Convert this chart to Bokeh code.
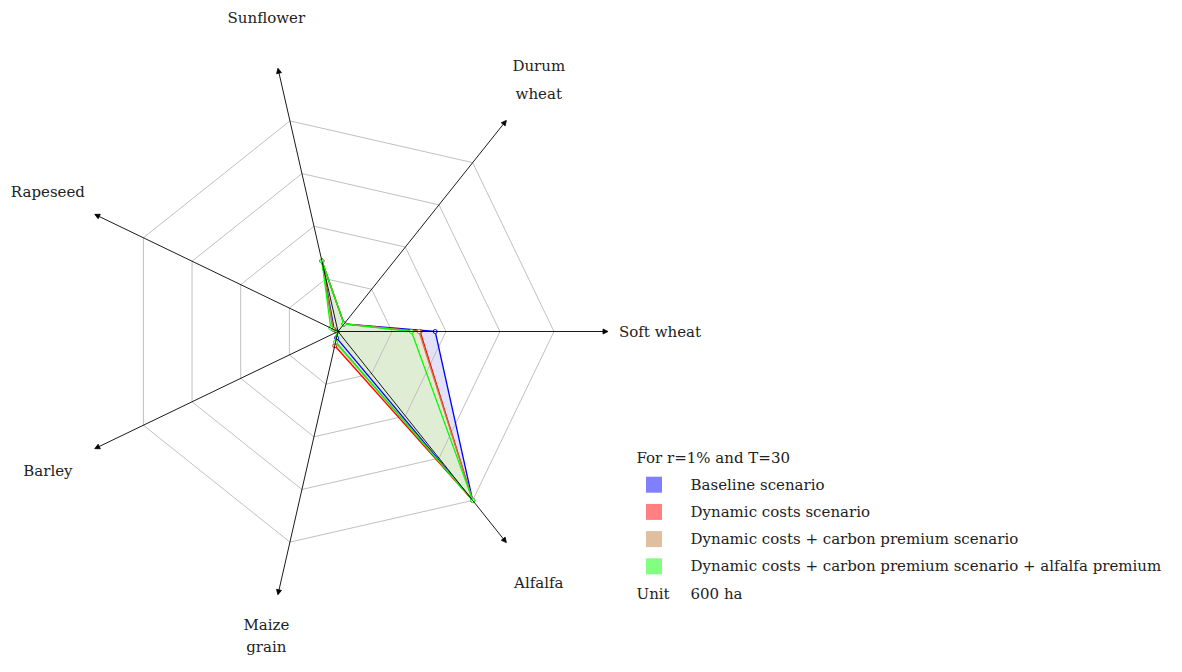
import math
from bokeh.plotting import figure
from bokeh.models import Range1d, Arrow, NormalHead
from bokeh.core.properties import value
from bokeh.embed import file_html
from bokeh.resources import INLINE

# ---------------- data ----------------
crops = ["Soft wheat", "Durum wheat", "Sunflower", "Rapeseed", "Barley", "Maize grain", "Alfalfa"]
label_lines = [["Soft wheat"], ["Durum", "wheat"], ["Sunflower"], ["Rapeseed"], ["Barley"], ["Maize", "grain"], ["Alfalfa"]]
series_names = ["Baseline scenario",
                "Dynamic costs scenario",
                "Dynamic costs + carbon premium scenario",
                "Dynamic costs + carbon premium scenario + alfalfa premium"]
# areas in ha (one ring = 600 ha)
baseline = [1080, 108, 804, 48, 12, 72, 2400]
dyn_costs = [912, 108, 804, 60, 12, 162, 2400]
dyn_carbon = [900, 108, 804, 60, 12, 120, 2400]
dyn_carbon_alfalfa = [816, 108, 804, 90, 12, 120, 2400]
series_values = [baseline, dyn_costs, dyn_carbon, dyn_carbon_alfalfa]
ring_values = [600, 1200, 1800, 2400]
axis_max = 3000
header_text = "For r=1% and T=30"
unit_label = "Unit"
unit_text = "600 ha"

line_colors = ["#0000ff", "#ff0000", "#bf8040", "#00ff00"]
fill_colors = ["#e1e1f8", "#f8dede", "#efe4d8", "#dfedd5"]
legend_colors = ["#8080ff", "#ff8080", "#dfbf9f", "#80ff80"]

# ---------------- layout ----------------
W, H = 1166, 656
CX, CY = 337.5, 331.0
SCALE = 216.0 / 2400.0  # px per ha
LABEL_R = 322.0
FONT = value("DejaVu Serif")
FS = "15px"
TXT = "#222222"

p = figure(width=W, height=H, output_backend="svg", toolbar_location=None,
           x_range=Range1d(0, W), y_range=Range1d(H, 0),
           min_border=0, tools="")
p.axis.visible = False
p.grid.visible = False
p.outline_line_color = None
p.background_fill_color = "white"

n = len(crops)
angles = [2 * math.pi * k / n for k in range(n)]


def to_xy(vals):
    xs = [CX + v * SCALE * math.cos(a) for v, a in zip(vals, angles)]
    ys = [CY - v * SCALE * math.sin(a) for v, a in zip(vals, angles)]
    return xs, ys


# series fills (under the grid)
for vals, col in zip(series_values, fill_colors):
    xs, ys = to_xy(vals)
    p.patch(xs, ys, fill_color=col, fill_alpha=1.0, line_color=None)

# grid rings
for rv in ring_values:
    xs, ys = to_xy([rv] * n)
    p.line(xs + [xs[0]], ys + [ys[0]], line_color="#c0c0c0", line_width=1)

# axes with arrows
ax_x, ax_y = to_xy([axis_max] * n)
for xe, ye in zip(ax_x, ax_y):
    p.add_layout(Arrow(end=NormalHead(size=5, fill_color="black", line_color="black", line_width=0.8),
                       x_start=CX, y_start=CY, x_end=xe, y_end=ye,
                       line_color="black", line_width=0.9))

# series lines and markers
for vals, col in zip(series_values, line_colors):
    xs, ys = to_xy(vals)
    p.line(xs + [xs[0]], ys + [ys[0]], line_color=col, line_width=1.3)
    p.scatter(xs, ys, size=4, marker="circle", line_color=col, fill_color="white", line_width=1)

# axis labels
lx, ly, lt = [], [], []
for lines, a in zip(label_lines, angles):
    x0 = CX + LABEL_R * math.cos(a)
    y0 = CY - LABEL_R * math.sin(a)
    m = len(lines)
    gap = 28
    if m > 1 and math.sin(a) < 0:
        # bottom label: keep inside the canvas
        y0 -= 9
        gap = 22
    for i, t in enumerate(lines):
        lx.append(x0)
        ly.append(y0 + (i - (m - 1) / 2) * gap)
        lt.append(t)
p.text(lx, ly, text=lt, text_align="center", text_baseline="middle",
       text_font=FONT, text_font_size=FS, text_color=TXT)

# legend
LX0, LY0, ROW = 636, 457, 27.2
TX = 690
p.text([LX0], [LY0], text=[header_text], text_align="left", text_baseline="middle",
       text_font=FONT, text_font_size=FS, text_color=TXT)
ry = [LY0 + ROW * (i + 1) for i in range(len(series_names))]
p.rect([653.5] * len(ry), ry, width=16, height=16, fill_color=legend_colors, line_color=None)
p.text([TX] * len(ry), ry, text=series_names, text_align="left", text_baseline="middle",
       text_font=FONT, text_font_size=FS, text_color=TXT)
uy = LY0 + ROW * (len(series_names) + 1)
p.text([LX0, TX], [uy, uy], text=[unit_label, unit_text], text_align="left", text_baseline="middle",
       text_font=FONT, text_font_size=FS, text_color=TXT)

open("out.html", "w").write(file_html(p, INLINE))
